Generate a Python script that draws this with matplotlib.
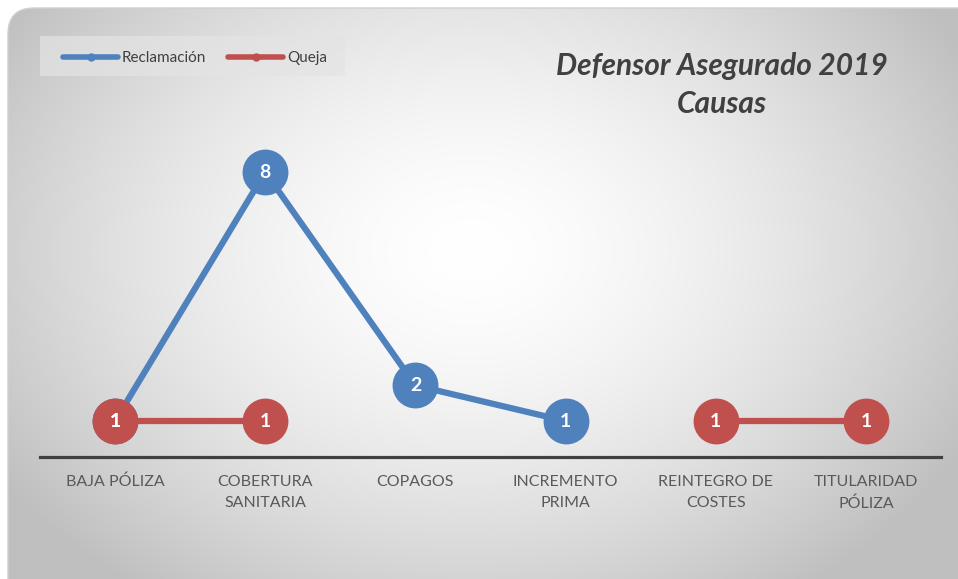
import numpy as np
import matplotlib
matplotlib.use('Agg')
import matplotlib.pyplot as plt
from matplotlib.patches import FancyBboxPatch, Rectangle

plt.rcParams['font.family'] = ['Lato', 'DejaVu Sans']

# Data
categories = ['BAJA PÓLIZA', 'COBERTURA\nSANITARIA', 'COPAGOS', 'INCREMENTO\nPRIMA',
              'REINTEGRO DE\nCOSTES', 'TITULARIDAD\nPÓLIZA']
reclamacion = [1, 8, 2, 1, np.nan, np.nan]
queja = [1, 1, np.nan, np.nan, 1, 1]

blue = '#4F81BD'
red = '#C0504D'

W, H = 958, 579
fig = plt.figure(figsize=(W / 100, H / 100), dpi=100)
fig.patch.set_facecolor('white')

# background with radial gradient inside rounded box
bg = fig.add_axes([0, 0, 1, 1])
bg.set_xlim(0, W)
bg.set_ylim(H, 0)
bg.axis('off')
yy, xx = np.mgrid[0:H, 0:W]
d = np.sqrt(((xx - 470) / 560.0) ** 2 + ((yy - 250) / 420.0) ** 2)
v = 1 - 0.25 * np.clip(d, 0, 1) ** 1.6
img = np.dstack([v, v, v])
im = bg.imshow(img, extent=(0, W, H, 0), zorder=0)
box = FancyBboxPatch((8, 8), W + 40, H + 40, boxstyle='round,pad=0,rounding_size=26',
                     facecolor='none', edgecolor='#d0d0d0', lw=1, zorder=1)
bg.add_patch(box)
im.set_clip_path(box)
# legend background
bg.add_patch(Rectangle((40, 36), 305, 40, facecolor='#e4e4e4', alpha=0.7,
                       edgecolor='none', zorder=2))

# main plot
ax = fig.add_axes([40 / W, 0.2114, 901 / W, 0.6142])
ax.patch.set_alpha(0)
x = np.arange(len(categories))
ax.plot(x, reclamacion, color=blue, lw=4.5, marker='o', ms=32, mec=blue, solid_capstyle='round',
        zorder=2, label='Reclamación')
ax.plot(x, queja, color=red, lw=4.5, marker='o', ms=32, mec=red, solid_capstyle='round',
        zorder=3, label='Queja')

for xi, val in zip(x, reclamacion):
    if not np.isnan(val):
        ax.text(xi, val, str(int(val)), color='white', fontsize=14, fontweight='bold',
                ha='center', va='center', zorder=5)
for xi, val in zip(x, queja):
    if not np.isnan(val):
        ax.text(xi, val, str(int(val)), color='white', fontsize=14, fontweight='bold',
                ha='center', va='center', zorder=6)

ax.set_xlim(-0.5, len(categories) - 0.5)
ax.set_ylim(0, 10)
ax.set_yticks([])
ax.set_xticks(x)
ax.set_xticklabels(categories, fontsize=11.5, color='#595959', linespacing=1.65)
ax.tick_params(axis='x', length=0, pad=13)
for s in ['top', 'right', 'left']:
    ax.spines[s].set_visible(False)
ax.spines['bottom'].set_color('#404040')
ax.spines['bottom'].set_linewidth(2.3)

# legend
handles = [plt.Line2D([0], [0], color=blue, lw=4, marker='o', ms=5, solid_capstyle='round'),
           plt.Line2D([0], [0], color=red, lw=4, marker='o', ms=5, solid_capstyle='round')]
leg = fig.legend(handles, ['Reclamación', 'Queja'], loc='upper left',
                 bbox_to_anchor=(63 / W, 1 - 51 / H), ncol=2, frameon=False, fontsize=11,
                 handlelength=3.6, handletextpad=0.26, columnspacing=1.44,
                 borderpad=0, borderaxespad=0, labelcolor='#404040')

# title
fig.text(722 / W, 1 - 66 / H, 'Defensor Asegurado 2019', fontsize=21.5, fontweight='bold',
         style='italic', color='#404040', ha='center', va='center')
fig.text(722 / W, 1 - 104 / H, 'Causas', fontsize=21.5, fontweight='bold',
         style='italic', color='#404040', ha='center', va='center')

fig.savefig('out.png', dpi=100)
